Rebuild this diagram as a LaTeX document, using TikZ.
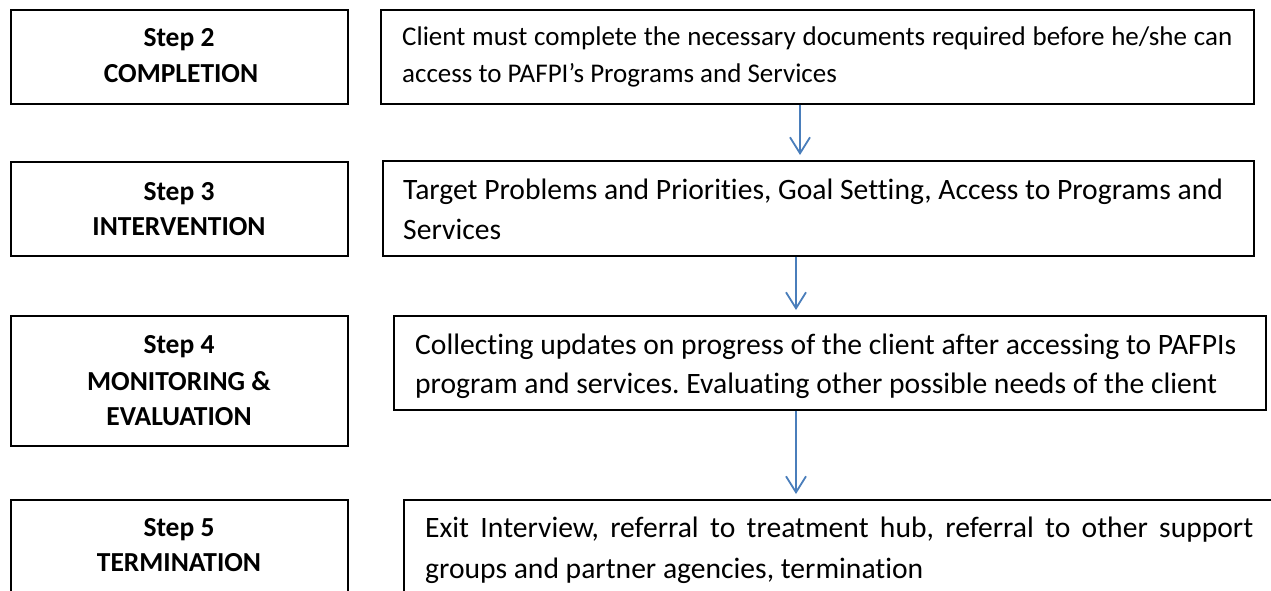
\documentclass[tikz,border=0pt]{standalone}
\usepackage{fontspec}
\setmainfont{Carlito}[Ligatures={NoCommon,NoContextual}]
\usetikzlibrary{arrows.meta}
\definecolor{flowblue}{HTML}{4A7EBB}
\frenchspacing
\begin{document}
\begin{tikzpicture}[x=1pt,y=-1pt,
  stepbox/.style={draw=black, line width=1.6pt, rectangle, inner sep=0pt, anchor=north west},
  steptitle/.style={font=\fontsize{27.5}{33}\selectfont\bfseries, anchor=base, inner sep=0pt},
  desc/.style={font=\fontsize{29.6}{35}\selectfont, anchor=base west, inner sep=0pt},
  descsmall/.style={font=\fontsize{27}{33}\selectfont, anchor=base west, inner sep=0pt},
  flow/.style={draw=flowblue, line width=1.8pt,
    -{Straight Barb[length=16pt,width=20pt,line width=1.8pt]}}]
\useasboundingbox (0,0) rectangle (1271,591);
\clip (0,0) rectangle (1271,591);

% step boxes on the left
\node[stepbox, minimum width=337pt, minimum height=94pt]  (s2) at (10,9) {};
\node[stepbox, minimum width=337pt, minimum height=94pt]  (s3) at (10,161) {};
\node[stepbox, minimum width=337pt, minimum height=130pt] (s4) at (10,315) {};
\node[stepbox, minimum width=337pt, minimum height=150pt] (s5) at (10,499) {};

\node[steptitle] (s2a) at (179,47)  {Step 2};
\node[steptitle] (s2b) at (181,83)  {COMPLETION};
\node[steptitle] (s3a) at (179,200) {Step 3};
\node[steptitle] (s3b) at (179,235) {INTERVENTION};
\node[steptitle] (s4a) at (179,353) {Step 4};
\node[steptitle] (s4b) at (179,390) {MONITORING \&};
\node[steptitle] (s4c) at (179,425) {EVALUATION};
\node[steptitle] (s5a) at (179,536) {Step 5};
\node[steptitle] (s5b) at (179,571) {TERMINATION};

% description boxes on the right
\node[stepbox, minimum width=873pt, minimum height=94pt]  (d2) at (380,9) {};
\node[stepbox, minimum width=871pt, minimum height=95pt]  (d3) at (382,160) {};
\node[stepbox, minimum width=872pt, minimum height=94pt]  (d4) at (393,315) {};
\node[stepbox, minimum width=900pt, minimum height=150pt] (d5) at (403,499) {};

\node[descsmall] (d2a) at (402,46) {\makebox[830pt][s]{Client must complete the necessary documents required before he/she can}};
\node[descsmall] (d2b) at (402,83) {access to PAFPI’s Programs and Services};
\node[desc] (d3a) at (403,199) {Target Problems and Priorities, Goal Setting, Access to Programs and};
\node[desc] (d3b) at (403,239) {Services};
\node[desc] (d4a) at (415,354) {Collecting updates on progress of the client after accessing to PAFPIs};
\node[desc] (d4b) at (415,393) {program and services. Evaluating other possible needs of the client};
\node[desc] (d5a) at (425,537) {\makebox[828pt][s]{Exit Interview, referral to treatment hub, referral to other support}};
\node[desc] (d5b) at (425,578) {groups and partner agencies, termination};

% arrows between description boxes
\coordinate (t1) at (800,155);
\coordinate (t2) at (796,310);
\coordinate (t3) at (796,494);
\draw[flow] (t1 |- d2.south) -- (t1);
\draw[flow] (t2 |- d3.south) -- (t2);
\draw[flow] (t3 |- d4.south) -- (t3);
\end{tikzpicture}
\end{document}
